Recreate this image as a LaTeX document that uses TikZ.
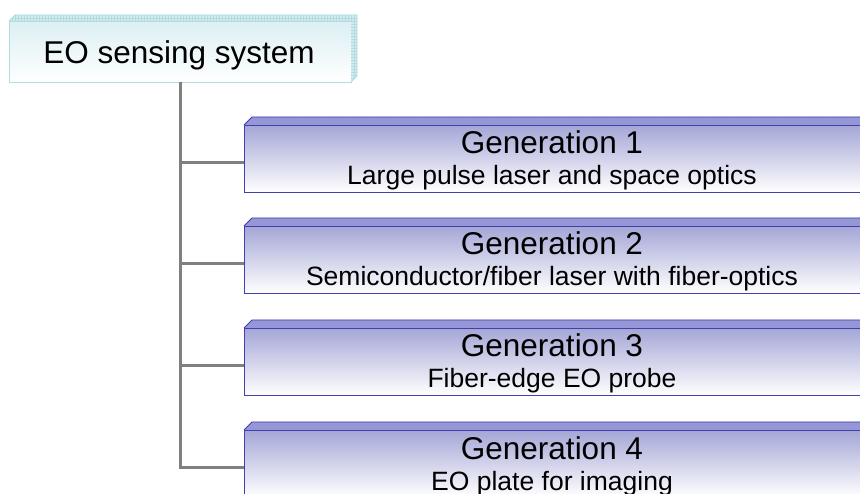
\documentclass[tikz,border=0pt]{standalone}
\usepackage{fontspec}
\setmainfont{Liberation Sans}
\definecolor{genedge}{RGB}{64,64,176}
\definecolor{gentop}{RGB}{164,166,214}
\definecolor{genbevel}{RGB}{150,150,216}
\definecolor{rootedge}{RGB}{176,220,226}
\definecolor{roottop}{RGB}{220,239,243}
\definecolor{rootbevel}{RGB}{210,234,238}
\definecolor{conn}{RGB}{128,128,128}
\tikzset{
  genbox/.style={draw=genedge, line width=0.8pt, top color=gentop, bottom color=white,
    minimum width=626pt, minimum height=67pt, inner sep=0pt, outer sep=0pt, anchor=north west},
  rootbox/.style={draw=rootedge, line width=0.8pt, top color=roottop, bottom color=white,
    minimum width=342pt, minimum height=61pt, inner sep=0pt, outer sep=0pt, anchor=north west},
  gentitle/.style={anchor=base, inner sep=0pt, font=\fontsize{31.5}{36}\selectfont},
  gensub/.style={anchor=base, inner sep=0pt, font=\fontsize{26.5}{30}\selectfont},
  roottext/.style={anchor=base, inner sep=0pt, font=\fontsize{31.5}{36}\selectfont},
  connector/.style={draw=conn, line width=3pt},
}
\newcommand{\genbevel}[1]{%
  \begin{scope}
    \clip (#1.north west) -- ([shift={(8,-8)}]#1.north west) -- ([shift={(8,-8)}]#1.north east) -- (#1.north east) -- cycle;
    \fill[genbevel] ([shift={(0,-9)}]#1.north west) rectangle (#1.north east);
    \foreach \i in {0,3,...,630} {\draw[genedge!55, line width=0.3pt] ([shift={(\i,0)}]#1.north west) -- ++(0,-9);}
    \foreach \j in {2.7,5.4} {\draw[genedge!55, line width=0.3pt] ([shift={(0,-\j)}]#1.north west) -- ++(640,0);}
  \end{scope}
  \draw[genedge, line width=0.8pt, line join=round] (#1.north west) -- ([shift={(8,-8)}]#1.north west) -- ([shift={(8,-8)}]#1.north east);
}
\begin{document}
\begin{tikzpicture}[x=1pt,y=-1pt]
\useasboundingbox (0,0) rectangle (860,494);
\clip (0,0) rectangle (860,494);
\fill[white] (0,0) rectangle (860,494);

% root
\node[rootbox] (root) at (9,21) {};
\begin{scope}
  \fill[rootbevel] (root.north west) -- ([shift={(6,-6)}]root.north west) -- ([shift={(6,-6)}]root.north east) -- ([shift={(6,-6)}]root.south east) -- (root.south east) -- (root.north east) -- cycle;
  \clip (root.north west) -- ([shift={(6,-6)}]root.north west) -- ([shift={(6,-6)}]root.north east) -- ([shift={(6,-6)}]root.south east) -- (root.south east) -- (root.north east) -- cycle;
  \foreach \i in {0,3,...,350} {\draw[rootedge, line width=0.3pt] ([shift={(\i,0)}]root.north west) -- ++(0,-7);}
  \foreach \j in {0,3,...,66} {\draw[rootedge, line width=0.3pt] ([shift={(0,\j)}]root.north east) -- ++(7,0);}
  \draw[rootedge, line width=0.3pt] ([shift={(0,-3)}]root.north west) -- ++(360,0);
  \draw[rootedge, line width=0.3pt] ([shift={(3,-3)}]root.north east) -- ++(0,70);
\end{scope}
\draw[rootedge, line width=0.8pt] (root.north west) -- ([shift={(6,-6)}]root.north west) -- ([shift={(6,-6)}]root.north east) -- ([shift={(6,-6)}]root.south east) -- (root.south east);
\node[roottext] (roott) at (179,64) {EO sensing system};

% generation boxes
\node[genbox] (g1) at (244,125) {};
\node[genbox] (g2) at (244,226) {};
\node[genbox] (g3) at (244,328) {};
\node[genbox] (g4) at (244,430) {};
\genbevel{g1}\genbevel{g2}\genbevel{g3}\genbevel{g4}

\node[gentitle] (t1) at (552,154) {Generation 1};
\node[gensub] (s1) at (552,185) {Large pulse laser and space optics};
\node[gentitle] (t2) at (552,255) {Generation 2};
\node[gensub] (s2) at (552,286) {Semiconductor/fiber laser with fiber-optics};
\node[gentitle] (t3) at (552,357) {Generation 3};
\node[gensub] (s3) at (552,388) {Fiber-edge EO probe};
\node[gentitle] (t4) at (552,459) {Generation 4};
\node[gensub] (s4) at (552,490) {EO plate for imaging};

% connectors
\coordinate (trunk) at (180,0);
\draw[connector] (root.south -| trunk) |- ([yshift=-4]g4.west);
\draw[connector] ([yshift=-4]g1.west -| trunk) -- ([yshift=-4]g1.west);
\draw[connector] ([yshift=-4]g2.west -| trunk) -- ([yshift=-4]g2.west);
\draw[connector] ([yshift=-4]g3.west -| trunk) -- ([yshift=-4]g3.west);
\end{tikzpicture}
\end{document}
